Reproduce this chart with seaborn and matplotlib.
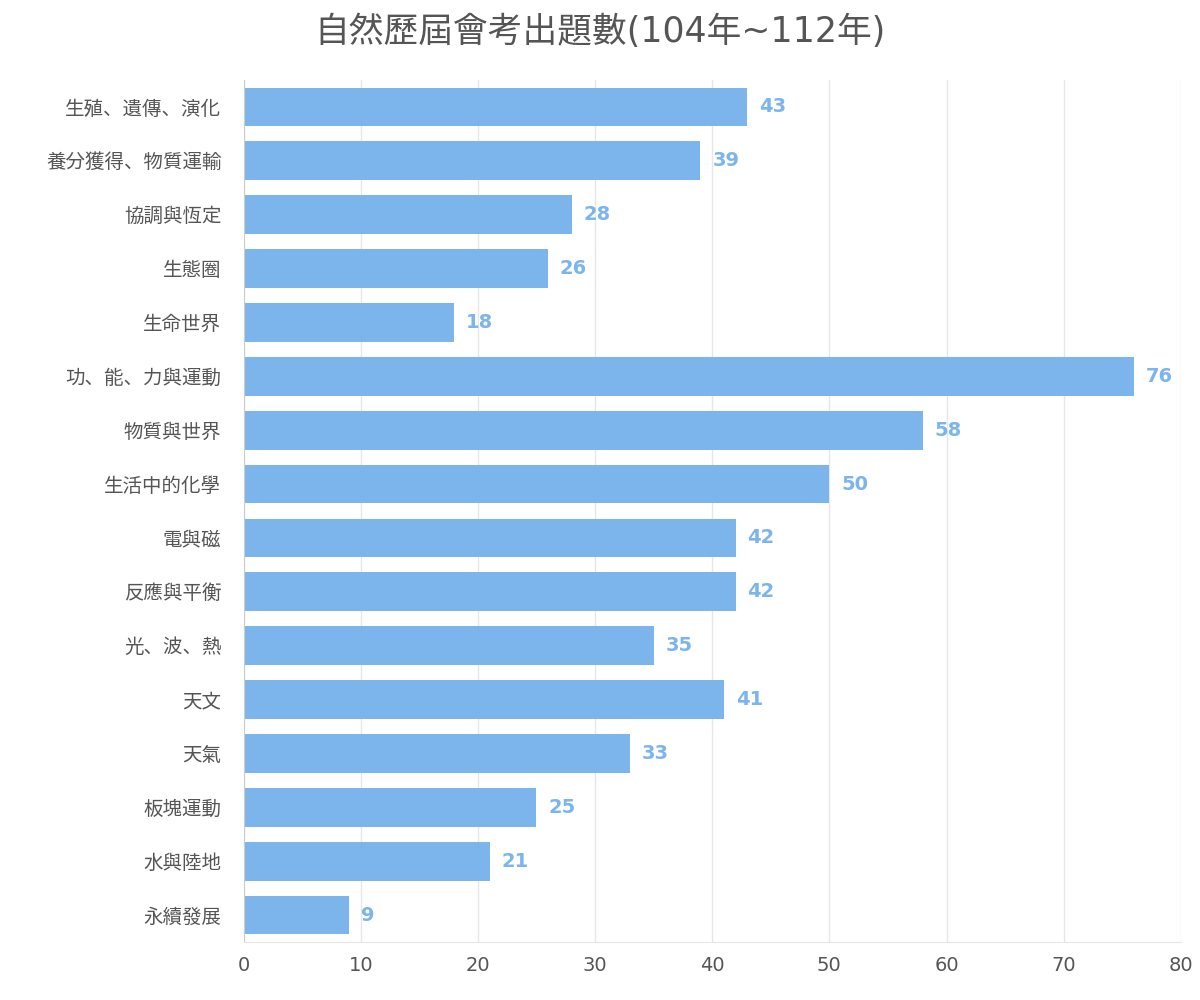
import matplotlib
matplotlib.use("Agg")
import matplotlib.pyplot as plt
import seaborn as sns
import pandas as pd

# per-glyph fallback: latin from DejaVu, CJK from Noto
plt.rcParams['font.family'] = ['DejaVu Sans', 'Noto Sans CJK TC', 'Noto Sans CJK JP',
                               'Noto Sans CJK SC']

topics = ['生殖、遺傳、演化', '養分獲得、物質運輸', '協調與恆定', '生態圈', '生命世界',
          '功、能、力與運動', '物質與世界', '生活中的化學', '電與磁', '反應與平衡',
          '光、波、熱', '天文', '天氣', '板塊運動', '水與陸地', '永續發展']
counts = [43, 39, 28, 26, 18, 76, 58, 50, 42, 42, 35, 41, 33, 25, 21, 9]
x_ticks = [0, 10, 20, 30, 40, 50, 60, 70, 80]

df = pd.DataFrame({'topic': topics, 'count': counts})
bar_color = '#7cb5ec'
text_color = '#555555'

fig = plt.figure(figsize=(12, 10), dpi=100)
ax = fig.add_axes([0.203, 0.058, 0.781, 0.862])
sns.barplot(data=df, x='count', y='topic', color=bar_color, width=0.72,
            saturation=1, ax=ax)

ax.set_xlim(0, 80)
ax.set_ylim(len(topics) - 0.5, -0.5)
ax.set_xticks(x_ticks)
ax.set_xlabel('')
ax.set_ylabel('')
ax.tick_params(axis='both', length=0, labelsize=14, colors=text_color)
ax.tick_params(axis='y', pad=16)
ax.tick_params(axis='x', pad=10)
ax.grid(axis='x', color='#e6e6e6', linewidth=1)
ax.set_axisbelow(True)
for s in ['top', 'right']:
    ax.spines[s].set_visible(False)
ax.spines['left'].set_color('#cccccc')
ax.spines['bottom'].set_color('#e6e6e6')

for i, v in enumerate(counts):
    ax.text(v + 1, i, str(v), color=bar_color, fontsize=14, fontweight='bold',
            ha='left', va='center')

fig.suptitle('自然歷屆會考出題數(104年~112年)', fontsize=25, color=text_color, y=0.985)
fig.savefig('out.png', dpi=100)
